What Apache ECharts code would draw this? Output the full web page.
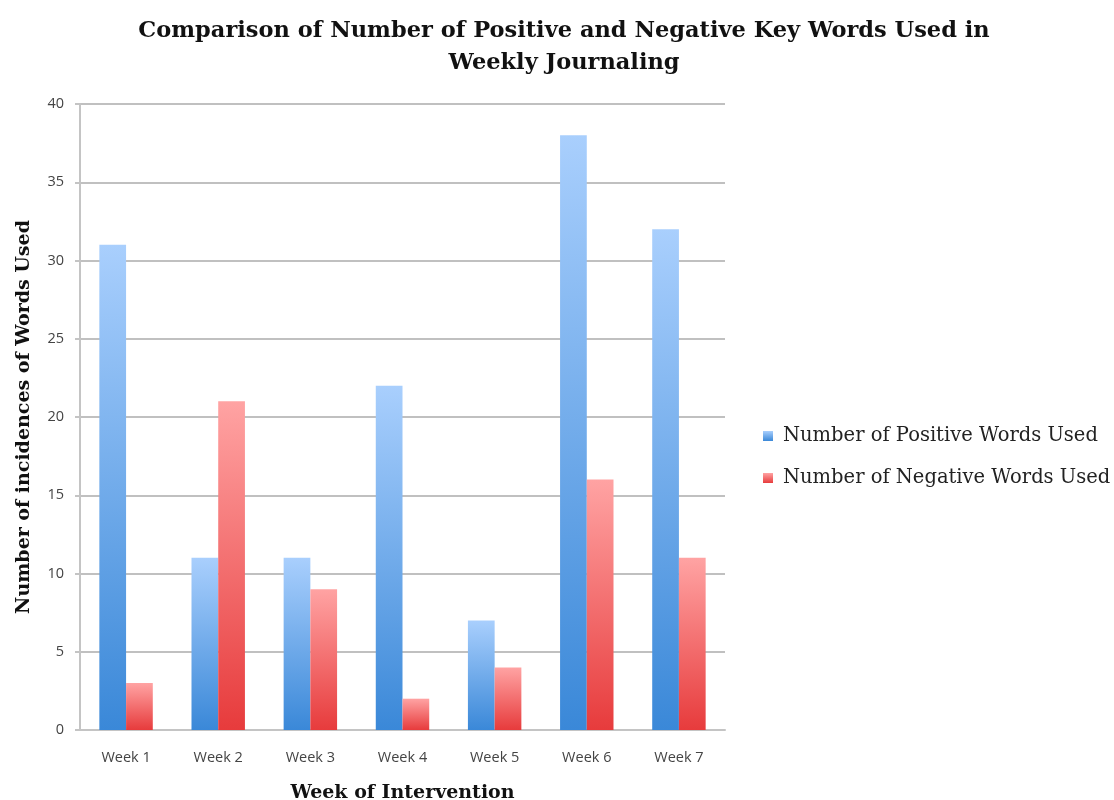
<!DOCTYPE html>
<html><head><meta charset="utf-8">
<script src="https://cdn.jsdelivr.net/npm/echarts@6/dist/echarts.min.js"></script>
<style>html,body{margin:0;padding:0;background:#fff}#c{width:1114px;height:800px}</style>
</head><body><div id="c"></div>
<script>
var categories = ['Week 1','Week 2','Week 3','Week 4','Week 5','Week 6','Week 7'];
var positiveWords = [31, 11, 11, 22, 7, 38, 32];
var negativeWords = [3, 21, 9, 2, 4, 16, 11];
var yTicks = {min: 0, max: 40, interval: 5};

var chart = echarts.init(document.getElementById('c'));
function grad(top, bottom){
  return new echarts.graphic.LinearGradient(0,0,0,1,[{offset:0,color:top},{offset:1,color:bottom}]);
}
chart.setOption({
  animation:false,
  title:{
    text:'Comparison of Number of Positive and Negative Key Words Used in\nWeekly Journaling',
    left:559, top:10, textAlign:'center',
    textStyle:{fontFamily:'DejaVu Serif', fontWeight:'bold', fontSize:22.5, lineHeight:32, color:'#111'}
  },
  legend:{
    orient:'vertical', left:758, top:421, itemWidth:10, itemHeight:10, itemGap:22,
    icon:'rect',
    textStyle:{fontFamily:'DejaVu Serif', fontSize:19.5, color:'#222', padding:[0,0,0,5]},
    data:['Number of Positive Words Used','Number of Negative Words Used']
  },
  grid:{left:80, right:389, top:104, bottom:70, containLabel:false, outerBoundsMode:'none'},
  xAxis:{
    type:'category', data:categories,
    name:'Week of Intervention', nameLocation:'middle', nameGap:54,
    nameTextStyle:{fontFamily:'DejaVu Serif', fontWeight:'bold', fontSize:19, color:'#111'},
    axisLine:{lineStyle:{color:'#c4c4c4', width:2}},
    axisTick:{show:false},
    axisLabel:{fontFamily:'Open Sans', fontSize:14.5, color:'#444', margin:20}
  },
  yAxis:{
    type:'value', min:yTicks.min, max:yTicks.max, interval:yTicks.interval,
    name:'Number of incidences of Words Used', nameLocation:'middle', nameGap:46,
    nameTextStyle:{fontFamily:'DejaVu Serif', fontWeight:'bold', fontSize:19, color:'#111'},
    axisLine:{show:true, lineStyle:{color:'#c4c4c4', width:2}},
    axisTick:{show:true, length:5, lineStyle:{color:'#c4c4c4', width:2}},
    axisLabel:{fontFamily:'Open Sans', fontSize:14.5, color:'#444', margin:16},
    splitLine:{lineStyle:{color:'#c0c0c0', width:2}}
  },
  series:[
    {name:'Number of Positive Words Used', type:'bar', data:positiveWords, barGap:'0%', barCategoryGap:'42%',
     itemStyle:{color:grad('#a9cffd','#3a88d8')}},
    {name:'Number of Negative Words Used', type:'bar', data:negativeWords,
     itemStyle:{color:grad('#ffa3a3','#e73b3c')}}
  ]
});
</script></body></html>
